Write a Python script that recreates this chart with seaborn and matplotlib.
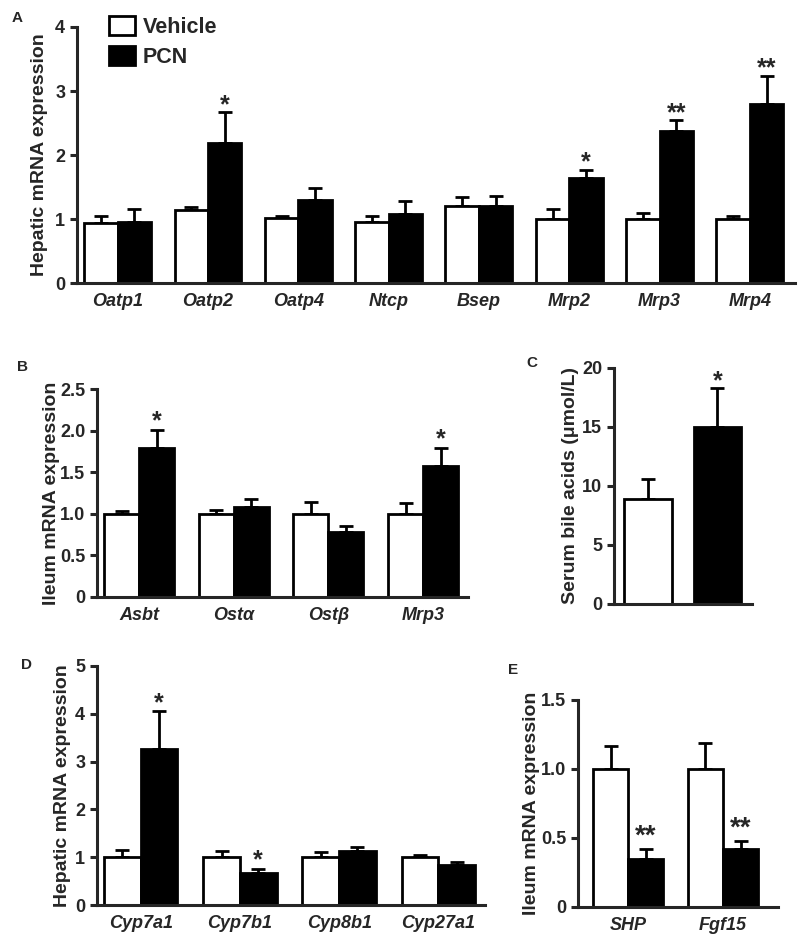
import numpy as np
import pandas as pd
import seaborn as sns
import matplotlib.pyplot as plt

# panel A - hepatic transporters
genes_a = ['Oatp1', 'Oatp2', 'Oatp4', 'Ntcp', 'Bsep', 'Mrp2', 'Mrp3', 'Mrp4']
veh_a = [0.94, 1.14, 1.01, 0.95, 1.21, 1.00, 1.00, 1.00]
veh_a_err = [0.11, 0.05, 0.04, 0.10, 0.14, 0.15, 0.10, 0.05]
pcn_a = [0.95, 2.19, 1.30, 1.08, 1.20, 1.64, 2.37, 2.80]
pcn_a_err = [0.21, 0.48, 0.18, 0.20, 0.16, 0.13, 0.17, 0.44]
sig_a = ['', '*', '', '', '', '*', '**', '**']

# panel B - ileum transporters
genes_b = ['Asbt', 'Ost\u03b1', 'Ost\u03b2', 'Mrp3']
veh_b = [1.00, 1.00, 1.00, 1.00]
veh_b_err = [0.03, 0.04, 0.14, 0.13]
pcn_b = [1.79, 1.08, 0.78, 1.57]
pcn_b_err = [0.22, 0.10, 0.07, 0.22]
sig_b = ['*', '', '', '*']

# panel C - serum bile acids
groups_c = ['Vehicle', 'PCN']
vals_c = [8.9, 15.0]
errs_c = [1.65, 3.3]
sig_c = ['', '*']

# panel D - hepatic Cyp genes
genes_d = ['Cyp7a1', 'Cyp7b1', 'Cyp8b1', 'Cyp27a1']
veh_d = [1.00, 1.00, 1.00, 1.00]
veh_d_err = [0.16, 0.12, 0.10, 0.05]
pcn_d = [3.26, 0.66, 1.12, 0.84]
pcn_d_err = [0.79, 0.09, 0.09, 0.06]
sig_d = ['*', '*', '', '']

# panel E - ileum SHP / Fgf15
genes_e = ['SHP', 'Fgf15']
veh_e = [1.00, 1.00]
veh_e_err = [0.17, 0.19]
pcn_e = [0.35, 0.42]
pcn_e_err = [0.07, 0.06]
sig_e = ['**', '**']

colors = ['white', 'black']

sns.set_theme(style='ticks')
plt.rcParams['font.family'] = ['Liberation Sans', 'DejaVu Sans']
plt.rcParams['font.weight'] = 'bold'
plt.rcParams['axes.linewidth'] = 2.2
plt.rcParams['xtick.major.width'] = 2.2
plt.rcParams['ytick.major.width'] = 2.2
plt.rcParams['ytick.major.size'] = 5
plt.rcParams['xtick.major.size'] = 0
plt.rcParams['xtick.major.pad'] = 7


def add_errs(ax, conts, errs_list, sig, star_pad, star_size=18):
    for cont, errs in zip(conts, errs_list):
        xs = [p.get_x() + p.get_width() / 2 for p in cont]
        hs = [p.get_height() for p in cont]
        ax.errorbar(xs, hs, yerr=[np.zeros(len(errs)), errs], fmt='none',
                    ecolor='black', elinewidth=2, capsize=5, capthick=2, zorder=1)
    for p, e, s in zip(conts[-1], errs_list[-1], sig):
        if s:
            ax.annotate(s, (p.get_x() + p.get_width() / 2, p.get_height() + e),
                        xytext=(0, star_pad), textcoords='offset points',
                        ha='center', va='baseline', fontsize=star_size, fontweight='bold')


def grouped(ax, genes, veh, veh_err, pcn, pcn_err, sig, ylabel, ylim, yticks,
            yticklabels, xlim, star_pad=1, star_size=18, legend=False):
    df = pd.DataFrame({'gene': genes * 2,
                       'group': ['Vehicle'] * len(genes) + ['PCN'] * len(genes),
                       'value': veh + pcn})
    sns.barplot(data=df, x='gene', y='value', hue='group', palette=colors,
                edgecolor='black', linewidth=2, errorbar=None, width=0.74,
                saturation=1, ax=ax, legend=legend, zorder=2)
    conts = list(ax.containers)
    add_errs(ax, conts, [veh_err, pcn_err], sig, star_pad, star_size)
    ax.set_ylim(*ylim)
    ax.set_xlim(*xlim)
    ax.set_yticks(yticks)
    ax.set_yticklabels(yticklabels, fontsize=13, fontweight='bold')
    ax.set_xticks(range(len(genes)))
    ax.set_xticklabels(genes, fontsize=13, fontweight='bold', style='italic')
    ax.set_xlabel('')
    ax.set_ylabel(ylabel, fontsize=14, fontweight='bold')
    sns.despine(ax=ax)


fig = plt.figure(figsize=(8, 9.44), dpi=100)

ax_a = fig.add_axes([0.09625, 0.7002, 0.8975, 0.2712])
grouped(ax_a, genes_a, veh_a, veh_a_err, pcn_a, pcn_a_err, sig_a,
        'Hepatic mRNA expression', (0, 4), [0, 1, 2, 3, 4], ['0', '1', '2', '3', '4'],
        (-0.45, 7.5), star_pad=0, legend=True)
handles, labels = ax_a.get_legend_handles_labels()
ax_a.legend(handles, labels, loc='upper left', bbox_to_anchor=(0.03, 1.085),
            frameon=False, handlelength=1.2, handleheight=1.0,
            handletextpad=0.35, labelspacing=0.35, borderpad=0,
            prop={'weight': 'bold', 'size': 15.5})
ax_a.yaxis.labelpad = 5

ax_b = fig.add_axes([0.12125, 0.3676, 0.46375, 0.2203])
grouped(ax_b, genes_b, veh_b, veh_b_err, pcn_b, pcn_b_err, sig_b,
        'Ileum mRNA expression', (0, 2.5), [0, 0.5, 1.0, 1.5, 2.0, 2.5],
        ['0', '0.5', '1.0', '1.5', '2.0', '2.5'], (-0.445, 3.475), star_pad=1)
ax_b.yaxis.labelpad = 0

ax_c = fig.add_axes([0.7675, 0.3602, 0.1725, 0.25])
df_c = pd.DataFrame({'group': groups_c, 'value': vals_c})
sns.barplot(data=df_c, x='group', y='value', hue='group', palette=colors,
            edgecolor='black', linewidth=2, errorbar=None, width=0.68,
            saturation=1, ax=ax_c, legend=False, zorder=2)
conts_c = list(ax_c.containers)
for cont, e, s in zip(conts_c, errs_c, sig_c):
    p = cont[0]
    xc = p.get_x() + p.get_width() / 2
    ax_c.errorbar([xc], [p.get_height()], yerr=[[0], [e]], fmt='none', ecolor='black',
                  elinewidth=2, capsize=5, capthick=2, zorder=1)
    if s:
        ax_c.annotate(s, (xc, p.get_height() + e), xytext=(0, 0),
                      textcoords='offset points', ha='center', va='baseline',
                      fontsize=18, fontweight='bold')
ax_c.set_ylim(0, 20)
ax_c.set_xlim(-0.49, 1.5)
ax_c.set_yticks([0, 5, 10, 15, 20])
ax_c.set_yticklabels(['0', '5', '10', '15', '20'], fontsize=13, fontweight='bold')
ax_c.set_xticks([])
ax_c.set_xlabel('')
ax_c.set_ylabel('Serum bile acids (\u03bcmol/L)', fontsize=14, fontweight='bold')
ax_c.yaxis.labelpad = 2
sns.despine(ax=ax_c)

ax_d = fig.add_axes([0.12125, 0.0413, 0.485, 0.2532])
grouped(ax_d, genes_d, veh_d, veh_d_err, pcn_d, pcn_d_err, sig_d,
        'Hepatic mRNA expression', (0, 5), [0, 1, 2, 3, 4, 5], ['0', '1', '2', '3', '4', '5'],
        (-0.44, 3.47), star_pad=1)
ax_d.yaxis.labelpad = 3

ax_e = fig.add_axes([0.7225, 0.0392, 0.25, 0.2193])
grouped(ax_e, genes_e, veh_e, veh_e_err, pcn_e, pcn_e_err, sig_e,
        'Ileum mRNA expression', (0, 1.5), [0, 0.5, 1.0, 1.5], ['0', '0.5', '1.0', '1.5'],
        (-0.53, 1.58), star_pad=4, star_size=20)
ax_e.yaxis.labelpad = 1

for lab, (x, y) in zip('ABCDE', [(17, 18), (23, 367), (532, 363), (27, 665), (513, 670)]):
    fig.text(x / 800, 1 - y / 944, lab, fontsize=11, fontweight='bold',
             ha='center', va='center')

fig.savefig('out.png', dpi=100)
